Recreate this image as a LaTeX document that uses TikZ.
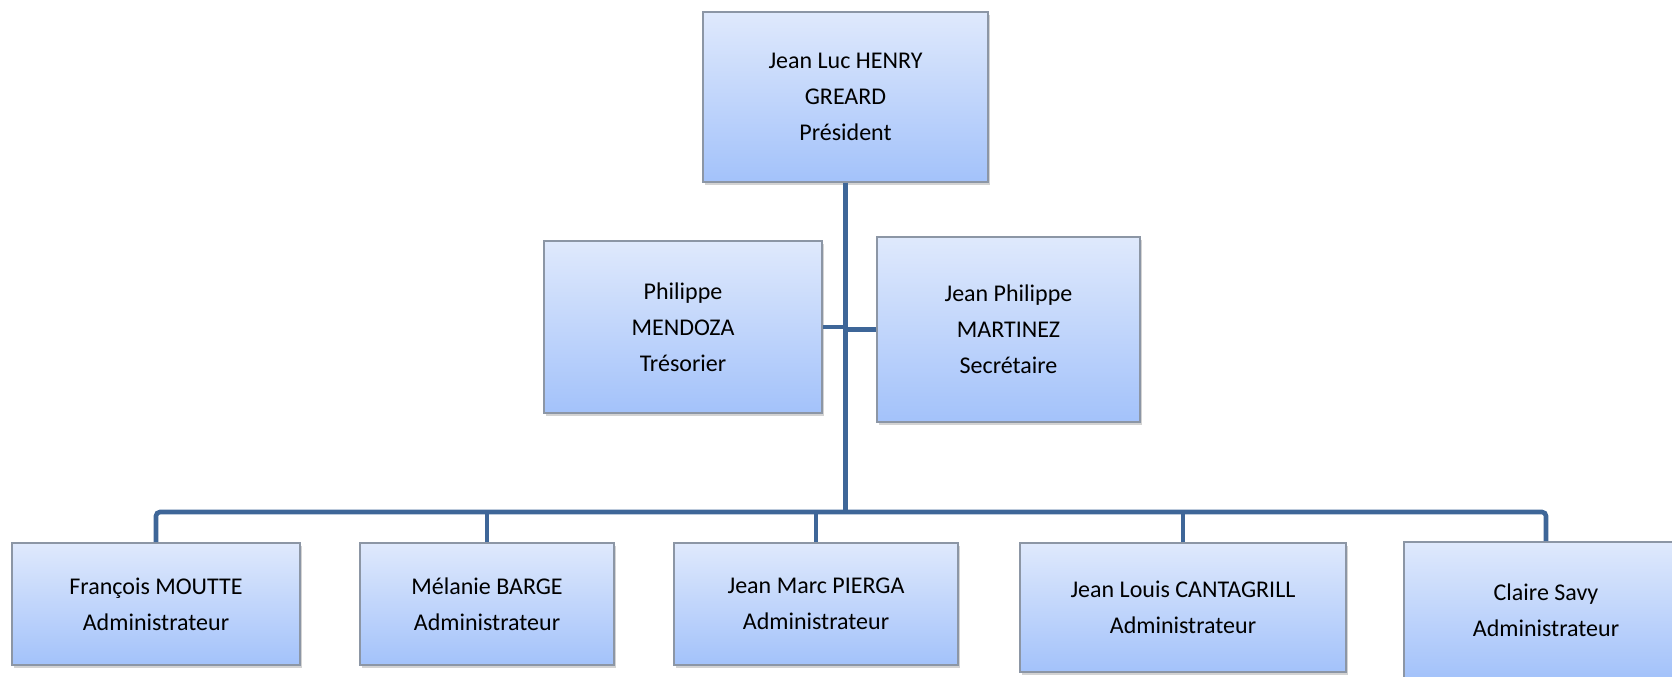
\documentclass[tikz,border=0pt]{standalone}
\usepackage{fontspec}
\setmainfont{Carlito}
\usetikzlibrary{positioning,shadows}
\definecolor{boxtop}{RGB}{223,233,252}
\definecolor{boxbot}{RGB}{163,194,250}
\definecolor{boxedge}{RGB}{140,150,165}
\definecolor{trunk}{RGB}{62,102,152}

\begin{document}
\begin{tikzpicture}[x=0.5pt, y=-0.5pt, font=\fontsize{12}{18}\selectfont,
  org/.style={draw=boxedge, line width=0.8pt, top color=boxtop, bottom color=boxbot, align=center, inner sep=0pt,
    drop shadow={shadow xshift=1pt, shadow yshift=-1.5pt, opacity=0.35}},
  link/.style={draw=trunk, line width=2.3pt}]
\useasboundingbox (0,0) rectangle (1672,676);
\clip (0,0) rectangle (1672,676);
\node[org, minimum width=142.5pt, minimum height=85pt] (pres) at (845.5,97) {Jean Luc HENRY\\GREARD\\Président};
\node[org, minimum width=139pt, minimum height=86pt] (treso) at (683,327) {Philippe\\MENDOZA\\Trésorier};
\node[org, minimum width=131.5pt, minimum height=92.5pt] (secr) at (1008.5,329.5) {Jean Philippe\\MARTINEZ\\Secrétaire};
\node[org, minimum width=144pt, minimum height=61pt] (adm1) at (156,604) {François MOUTTE\\Administrateur};
\node[org, minimum width=127pt, minimum height=61pt] (adm2) at (487,604) {Mélanie BARGE\\Administrateur};
\node[org, minimum width=142pt, minimum height=61pt] (adm3) at (816,604) {Jean Marc PIERGA\\Administrateur};
\node[org, minimum width=163pt, minimum height=64.5pt] (adm4) at (1183,607.5) {Jean Louis CANTAGRILL\\Administrateur};
\node[org, minimum width=142pt, minimum height=68pt] (adm5) at (1546,610) {Claire Savy\\Administrateur};
\coordinate (bus) at (845.5,512);
\draw[link] (pres.south) -- (bus);
\draw[link, rounded corners=2pt] (adm1.north) |- (bus) -| (adm5.north);
\foreach \n in {adm2,adm3,adm4} \draw[link] (\n.north) -- (\n.north |- bus);
\draw[link] (treso.east) -- (treso.east -| pres.south);
\draw[link] (secr.west) -- (secr.west -| pres.south);
\end{tikzpicture}
\end{document}
